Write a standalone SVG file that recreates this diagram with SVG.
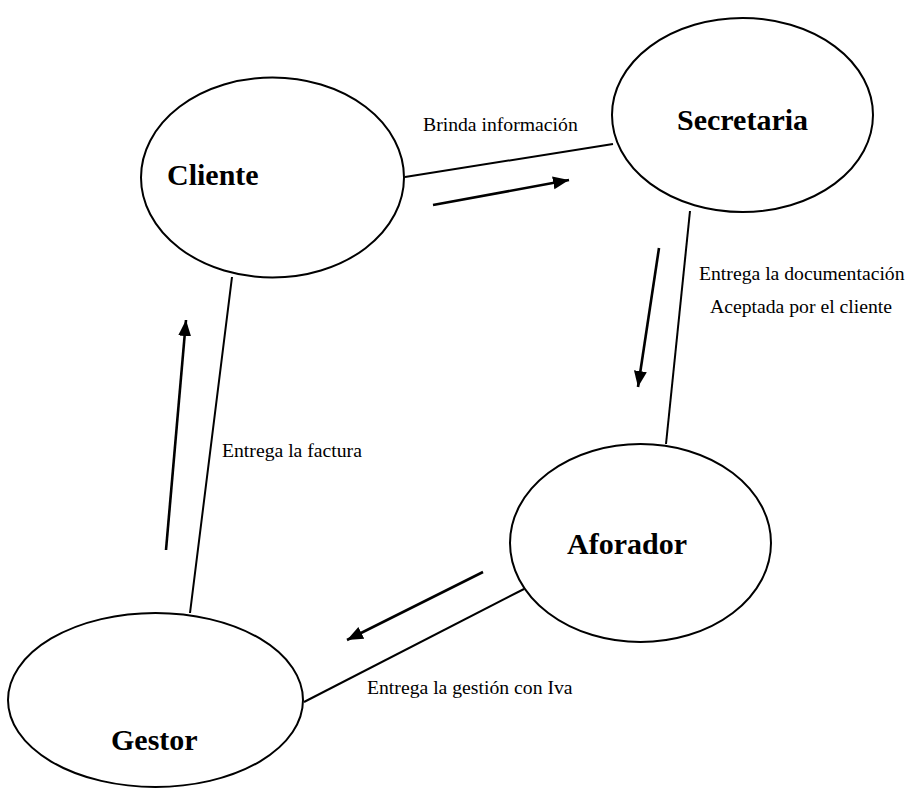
<svg xmlns="http://www.w3.org/2000/svg" width="910" height="791" viewBox="0 0 910 791">
<style>
.node{fill:none;stroke:#000;stroke-width:2}
.nl{font-family:"Liberation Serif","Times New Roman",serif;font-weight:bold;font-size:30px;fill:#000}
.el{font-family:"Liberation Serif","Times New Roman",serif;font-size:19.7px;fill:#000}
.ln{stroke:#000;stroke-width:2;fill:none}
.ar{stroke:#000;stroke-width:2.6;fill:none;marker-end:url(#ah)}
</style>
<defs>
<marker id="ah" markerUnits="userSpaceOnUse" markerWidth="18" markerHeight="14" refX="16" refY="6.5" orient="auto">
<path d="M0,0 L16,6.5 L0,13 z" fill="#000"/>
</marker>
</defs>
<rect width="910" height="791" fill="#fff"/>
<g id="cliente">
<ellipse class="node" cx="272.5" cy="177.5" rx="131.5" ry="100"/>
<text class="nl" x="167" y="185">Cliente</text>
</g>
<g id="secretaria">
<ellipse class="node" cx="742.5" cy="115" rx="130.5" ry="97"/>
<text class="nl" x="677" y="130">Secretaria</text>
</g>
<g id="aforador">
<ellipse class="node" cx="640.5" cy="543" rx="130.5" ry="99"/>
<text class="nl" x="567" y="554">Aforador</text>
</g>
<g id="gestor">
<ellipse class="node" cx="155.5" cy="700" rx="147.5" ry="87"/>
<text class="nl" x="111" y="750">Gestor</text>
</g>
<g id="connectors">
<line class="ln" x1="405" y1="177" x2="613" y2="144"/>
<line class="ar" x1="433" y1="205" x2="569" y2="180"/>
<text class="el" x="423" y="131">Brinda información</text>
<line class="ln" x1="690" y1="211" x2="666" y2="444"/>
<line class="ar" x1="659" y1="248" x2="638" y2="387"/>
<text class="el" x="699" y="280">Entrega la documentación</text>
<text class="el" x="710" y="313">Aceptada por el cliente</text>
<line class="ln" x1="524" y1="589" x2="304" y2="702"/>
<line class="ar" x1="483" y1="572" x2="347" y2="640"/>
<text class="el" x="367" y="694">Entrega la gestión con Iva</text>
<line class="ln" x1="232" y1="277" x2="190" y2="613"/>
<line class="ar" x1="166" y1="550" x2="186" y2="320"/>
<text class="el" x="222" y="457">Entrega la factura</text>
</g>
</svg>
